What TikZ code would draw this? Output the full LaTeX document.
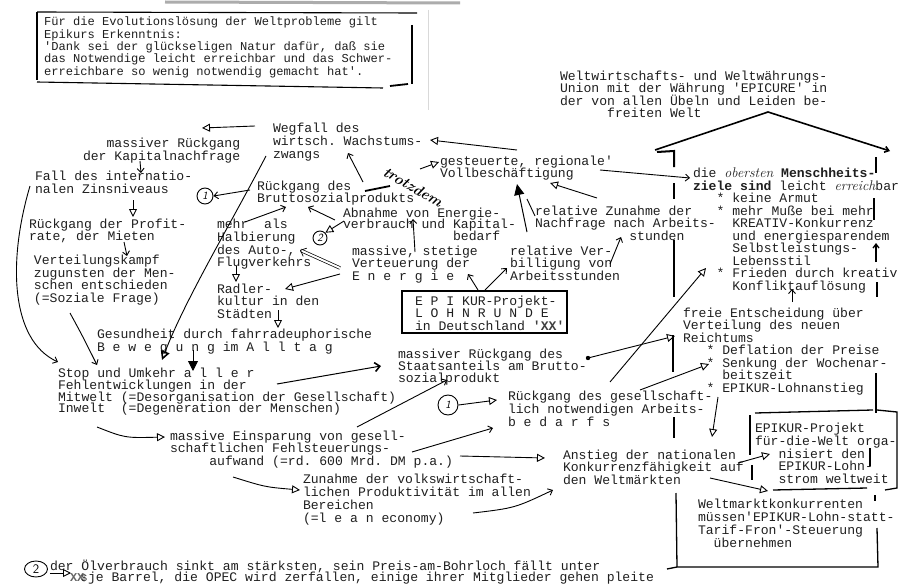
\documentclass[tikz,border=0pt]{standalone}
\usepackage{fontspec}
\newfontfamily\tw{Liberation Mono}
\usetikzlibrary{arrows.meta,shapes.geometric}
\newcommand\ind[1]{\hspace*{#1\fontcharwd\font`\x}}
\newcommand\hw[1]{{\rmfamily\itshape\fontsize{14}{12}\selectfont #1}}
\lineskiplimit=-100pt
\begin{document}
\lineskiplimit=-100pt
\begin{tikzpicture}[x=1pt,y=-1pt,
 tx/.style={anchor=north west, yshift=8pt, inner sep=0pt, outer sep=0pt, align=left, text=black!88, execute at begin node={\rule{0pt}{12pt}}},
 lsp/.style={font=\tw\fontsize{13.1}{#1}\selectfont\frenchspacing},
 arV/.style={line width=0.9pt, -{Straight Barb[length=4pt,width=7pt]}},
 arT/.style={line width=0.9pt, -{Triangle[open,length=8pt,width=8pt]}},
 arF/.style={line width=0.9pt, -{Triangle[length=10pt,width=10pt]}},
 wall/.style={line width=1.3pt},
 circ/.style={draw, circle, minimum size=#1, inner sep=0pt, line width=0.9pt, font=\sffamily\itshape\fontsize{11}{11}\selectfont}]
\fill[white] (0,0) rectangle (916,586);
\useasboundingbox (0,0) rectangle (916,586);
% scan artefacts
\draw[line width=3pt, gray!65] (165,2) -- (460,3);
\draw[line width=0.8pt, gray!30] (428,10) -- (428,110);
% top box
\node[tx,font=\tw\fontsize{12.1}{12.4}\selectfont\frenchspacing] (epk) at (44,25) {Für die Evolutionslösung der Weltprobleme gilt\\Epikurs Erkenntnis:\\'Dank sei der glückseligen Natur dafür, daß sie\\das Notwendige leicht erreichbar und das Schwer-\\erreichbare so wenig notwendig gemacht hat'.};
\draw[line width=1.1pt] (37,12) -- (417,13);
\draw[line width=1.1pt] (37,12) -- (37,80);
\draw[line width=1.1pt] (412,25) -- (412,84);
\draw[line width=1.1pt] (37,82) -- (383,88);
\draw[line width=1.8pt] (390,86) -- (408,84);
% texts
\node[tx,lsp=12.5] (welt) at (560,79) {Weltwirtschafts- und Weltwährungs-\\Union mit der Währung 'EPICURE' in\\der von allen Übeln und Leiden be-\\\ind{6}freiten Welt};
\node[tx,lsp=13] (kap) at (83,146) {\ind{3}massiver Rückgang\\der Kapitalnachfrage};
\node[tx,lsp=13] (weg) at (273,131) {Wegfall des\\wirtsch. Wachstums-\\zwangs};
\node[tx,lsp=12.5] (gest) at (440,164) {gesteuerte, regionale'\\Vollbeschäftigung};
\node[tx,lsp=13] (fall) at (35,179) {Fall des internatio-\\nalen Zinsniveaus};
\node[tx,lsp=12] (profit) at (29,227) {Rückgang der Profit-\\rate, der Mieten};
\node[tx,lsp=12.6] (vert) at (34,263) {Verteilungskampf\\zugunsten der Men-\\schen entschieden\\(=Soziale Frage)};
\node[tx,lsp=12.8] (mehr) at (217,227) {mehr\ \ als\\Halbierung\\des Auto-,\\Flugverkehrs};
\node[tx,lsp=12.5] (radler) at (217,292) {Radler-\\kultur in den\\Städten};
\node[tx,lsp=12.5] (bsp) at (257,189) {Rückgang des\\Bruttosozialprodukts};
\node[tx,lsp=13] (gesund) at (97,337) {Gesundheit durch fahrradeuphorische\\B e w e g u n g im A l l t a g};
\node[tx,lsp=11.8] (stop) at (58,376) {Stop und Umkehr a l l e r\\Fehlentwicklungen in der\\Mitwelt (=Desorganisation der Gesellschaft)\\Inwelt\ \ (=Degeneration der Menschen)};
\node[tx,lsp=12] (staat) at (398,357) {massiver Rückgang des\\Staatsanteils am Brutto-\\sozialprodukt};
\node[tx,lsp=12.5] (freie) at (683,316) {freie Entscheidung über\\Verteilung des neuen\\Reichtums\\\ind{3}* Deflation der Preise\\\ind{3}* Senkung der Wochenar-\\\ind{5}beitszeit\\\ind{3}* EPIKUR-Lohnanstieg};
\node[tx,lsp=12.5] (ziele) at (693,176) {die \hw{obersten} {\bfseries Menschheits-}\\{\bfseries ziele sind} leicht \hw{erreich}bar\\\ind{3}* keine Armut\\\ind{3}* mehr Muße bei mehr\\\ind{5}KREATIV-Konkurrenz\\\ind{5}und energiesparendem\\\ind{5}Selbstleistungs-\\\ind{5}Lebensstil\\\ind{3}* Frieden durch kreativ\\\ind{5}Konfliktauflösung};
\node[tx,lsp=12.5] (zun) at (535,214) {relative Zunahme der\\Nachfrage nach Arbeits-\\\ind{12}stunden};
\node[tx,lsp=11.5] (abn) at (343,216) {Abnahme von Energie-\\verbrauch und Kapital-\\\ind{14}bedarf};
\node[tx,lsp=12.5] (massive) at (352,254) {massive, stetige\\Verteuerung der\\E n e r g i e};
\node[tx,lsp=12.5] (verb) at (510,254) {relative Ver-\\billigung von\\Arbeitsstunden};
\node[tx,lsp=12.5] (lohn) at (415,304) {E P I KUR-Projekt-\\L O H N R U N D E\\in Deutschland {\bfseries\color{black!75}'XX'}};
\node[tx,lsp=13] (ges) at (508,399) {Rückgang des gesellschaft-\\lich notwendigen Arbeits-\\b e d a r f s};
\node[tx,lsp=12.5] (einsp) at (170,439) {massive Einsparung von gesell-\\schaftlichen Fehlsteuerungs-\\\ind{5}aufwand (=rd. 600 Mrd. DM p.a.)};
\node[tx,lsp=13] (prod) at (303,482) {Zunahme der volkswirtschaft-\\lichen Produktivität im allen\\Bereichen\\(=l e a n economy)};
\node[tx,lsp=12.3] (anst) at (563,458) {Anstieg der nationalen\\Konkurrenzfähigkeit auf\\den Weltmärkten};
\node[tx,lsp=12.8] (epw) at (755,431) {EPIKUR-Projekt\\für-die-Welt orga-\\\ind{3}nisiert den\\\ind{3}EPIKUR-Lohn-\\\ind{3}strom weltweit};
\node[tx,lsp=13] (wmk) at (698,507) {Weltmarktkonkurrenten\\müssen'EPIKUR-Lohn-statt-\\Tarif-Fron'-Steuerung\\\ind{2}übernehmen};
\node[tx,lsp=12] (oel1) at (50,566) {der Ölverbrauch sinkt am stärksten, sein Preis-am-Bohrloch fällt unter};
\node[tx,lsp=12] (oel2) at (88,577) {je Barrel, die OPEC wird zerfallen, einige ihrer Mitglieder gehen pleite};
\node[tx,font=\tw\bfseries\fontsize{12}{12}\selectfont,text=black!60] (xx) at (70,577) {XX};
\node[tx,font=\tw\fontsize{10}{10}\selectfont] (dol) at (81,577) {\$};
% handwritten
\node[rotate=-30, font=\bfseries\itshape\fontsize{15}{15}\selectfont] (trotz) at (413,187) {trotzdem};
\node[circ=16pt] (c1a) at (205,196) {1};
\node[circ=14pt] (c2a) at (320,238) {2};
\node[circ=20pt] (c1b) at (448,405) {1};
\node[draw, ellipse, minimum width=23pt, minimum height=16pt, inner sep=0pt, line width=0.9pt, font=\sffamily\fontsize{13}{13}\selectfont] (c2b) at (36,569) {2};
% house
\draw[line width=1.6pt, -{Straight Barb[length=4pt,width=6pt]}] (655,150) -- (768,112) -- (890,151);
\draw[line width=2pt] (657,152) -- (674,151) -- (674,167);
\draw[wall] (674,183) -- (674,199);
\draw[wall] (674,240) -- (674,297);
\draw[wall] (673,335) -- (673,372);
\draw[wall] (674,417) -- (674,438);
\draw[wall] (667,569) -- (677,567) -- (878,567) -- (877,528);
\draw[wall] (676,493) -- (677,567);
\draw[wall] (876,157) -- (876,173);
\draw[wall] (874,198) -- (874,220);
\draw[wall, -{Straight Barb[length=4pt,width=6pt]}] (876,262) -- (876,243);
\draw[wall] (877,282) -- (877,297);
\draw[wall] (876,373) -- (876,413);
\draw[wall] (877,410) -- (897,412) -- (897,488) -- (885,490);
\draw[wall] (875,495) -- (875,501);
% EPIKUR-Projekt-fuer-die-Welt frame
\draw[wall] (750,415) -- (750,455);
\draw[wall] (752,465) -- (752,480);
\draw[wall] (755,413) -- (873,410);
\draw[wall] (773,490) -- (867,488);
\draw[wall] (870,448) -- (870,466);
% LOHNRUNDE frame
\draw[line width=1.5pt] (402,291) rectangle (567,333);
% arrows
\draw[arT] (255,126) -- (202,128);
\draw[arT] (517,150) -- (430,140);
\draw[arV] (600,170) -- (690,178);
\draw[arT] (420,169) -- (439,162);
\draw[line width=1.8pt] (365,191) -- (390,186);
\draw[arV] (363,182) -- (348,153);
\draw[arV] (140,161) -- (141,173);
\draw[arT] (133,200) -- (133,217);
\draw[arV] (124,242) -- (127,256);
\draw[arV] (250,190) -- (c1a.east);
\draw[line width=0.9pt, -{Triangle[open,length=9pt,width=9pt,line width=1.6pt]}] (266,156) .. controls (230,225) and (185,300) .. (162,360);
\draw[arF] (193,350) -- (193,371);
\draw[arV] (30,186) .. controls (8,260) and (10,340) .. (58,362);
\draw[arV] (70,313) .. controls (82,335) .. (97,365);
\draw[arV] (245,222) -- (286,207);
\draw[arV] (335,220) -- (308,207);
\draw[arT] (344,221) -- (c2a.north east);
\draw[double, double distance=2pt, line width=0.7pt, -{Straight Barb[length=5pt,width=9pt]}] (340,268) -- (300,250);
\draw[arT] (340,274) -- (285,289);
\draw[arT] (236,266) -- (236,282);
\draw[arT] (278,310) -- (278,328);
\draw[arV] (415,252) -- (413,219);
\draw[line width=1pt, -{Triangle[length=11pt,width=10pt]}] (527,232) -- (517,184);
\draw[arT] (597,198) -- (550,183);
\draw[line width=0.9pt] (527,199) -- (535,216);
\draw[arV] (610,264) -- (621,237);
\draw[arV] (478,290) -- (468,274);
\draw[arV] (485,290) -- (507,268);
\draw[line width=1pt, -{Straight Barb[length=5pt,width=9pt,line width=1.6pt]}] (277,384) -- (381,366);
\fill (588,358) circle (2.2pt);
\draw[arT] (588,358) -- (675,336);
\draw[arV] (357,427) -- (447,380);
\draw[arT] (c1b.east) -- (497,400);
\draw[arV] (412,452) -- (493,428);
\draw[arT] (460,456) -- (545,458);
\draw[arV] (473,513) .. controls (515,508) .. (553,490);
\draw[arT] (97,427) .. controls (125,438) .. (165,437);
\draw[arT] (233,477) .. controls (265,487) .. (300,490);
\draw[arT] (610,382) -- (706,268);
\draw[arT] (640,390) -- (709,364);
\draw[arT] (718,397) -- (712,437);
\draw[arT] (738,463) -- (770,454);
\draw[arT] (710,478) -- (768,491);
\draw[arV] (792,302) -- (792,289);
\draw[arT] (c2b.east) ++(2,4) -- (71,573);
\end{tikzpicture}
\end{document}
